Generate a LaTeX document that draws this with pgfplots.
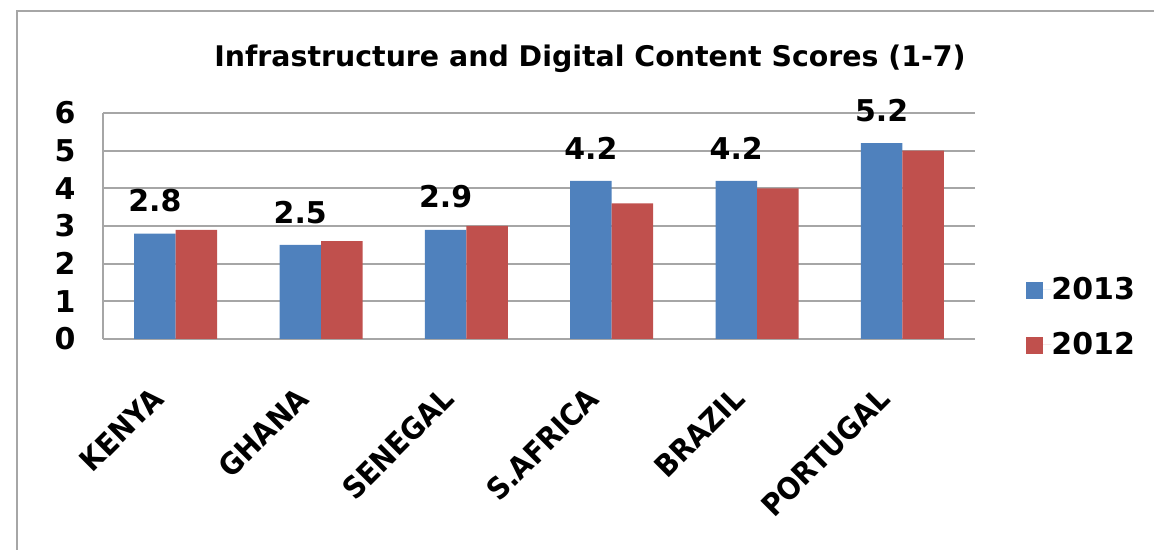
\documentclass[border=0pt]{standalone}
\usepackage{fontspec}
\setmainfont{DejaVu Sans}
\newfontfamily\narrowfont{DejaVu Sans}[FakeStretch=0.92]
\usepackage{pgfplots}
\pgfplotsset{compat=1.18}
\definecolor{bar13}{HTML}{4F81BD}
\definecolor{bar12}{HTML}{C0504D}
\definecolor{gridc}{HTML}{A6A6A6}

\begin{document}
\begin{tikzpicture}
% outer chart frame (only top and left edges visible)
\draw[gridc, line width=1pt] (8.5pt,-10pt) -- (8.5pt,269.5pt) -- (590pt,269.5pt);
\node[anchor=base, font=\bfseries\fontsize{14.2}{17}\selectfont]
    at (295pt,241.5pt) {Infrastructure and Digital Content Scores (1-7)};

\begin{axis}[
    at={(51.5pt,105.5pt)}, anchor=south west,
    scale only axis,
    width=436pt, height=113pt,
    ybar=0pt, bar width=20.75pt,
    xmin=-0.5, xmax=5.5,
    ymin=0, ymax=6,
    xtick={0,1,2,3,4,5},
    xticklabels={KENYA,GHANA,SENEGAL,S.AFRICA,BRAZIL,PORTUGAL},
    ytick={0,1,2,3,4,5,6},
    ymajorgrids,
    grid style={gridc, line width=1pt},
    axis x line*=bottom, axis y line*=left,
    axis line style={gridc, line width=1pt},
    major tick length=0pt,
    /pgf/number format/assume math mode=true,
    tick label style={font=\bfseries\fontsize{15}{18}\selectfont},
    yticklabel style={inner sep=0pt, xshift=-13.5pt},
    xticklabel style={font=\narrowfont\bfseries\fontsize{15}{18}\selectfont,
        inner sep=0pt, xshift=-9pt, yshift=-27pt, rotate=45, anchor=east},
    legend style={at={(1.0585,0.097)}, anchor=west, draw=none, fill=none,
        inner sep=0pt, row sep=15pt,
        font=\bfseries\fontsize{15}{18}\selectfont,
        nodes={inner sep=0pt}},
    legend cell align=left,
    legend image code/.code={%
        \fill[#1, draw=none] (0pt,-4.8pt) rectangle (8.5pt,3.7pt);
        \path (0pt,0pt) -- (12.5pt,0pt);},
]
%% 2013 series, labelled
\addplot[fill=bar13, draw=none,
    nodes near coords={\pgfmathprintnumber[fixed,fixed zerofill,precision=1]{\pgfplotspointmeta}},
    every node near coord/.append style={font=\bfseries\fontsize{15}{18}\selectfont,
        inner sep=0pt, anchor=south, yshift=10.5pt, text=black}]
    coordinates {(0,2.8) (1,2.5) (2,2.9) (3,4.2) (4,4.2) (5,5.2)};
\addlegendentry{2013}
%% 2012 series
\addplot[fill=bar12, draw=none]
    coordinates {(0,2.9) (1,2.6) (2,3.0) (3,3.6) (4,4.0) (5,5.0)};
\addlegendentry{2012}
\end{axis}

\pgfresetboundingbox
\useasboundingbox (0,0) rectangle (577pt,275pt);
\end{tikzpicture}
\end{document}
